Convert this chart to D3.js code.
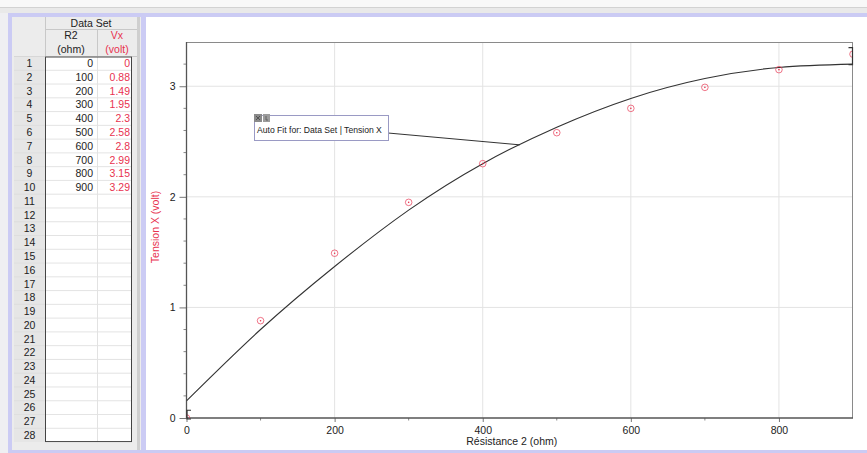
<!DOCTYPE html>
<html><head><meta charset="utf-8">
<script src="https://cdn.jsdelivr.net/npm/d3@7"></script>
<style>
html,body{margin:0;padding:0;background:#f2f2f2;overflow:hidden}
svg{display:block;font-family:"Liberation Sans",Arial,sans-serif}
</style></head>
<body>
<svg id="c" width="867" height="453"></svg>
<script>
// ---- data ----
const r2Values = [0,100,200,300,400,500,600,700,800,900];
const vxValues = [0,0.88,1.49,1.95,2.3,2.58,2.8,2.99,3.15,3.29];
const vxLabels = ["0","0.88","1.49","1.95","2.3","2.58","2.8","2.99","3.15","3.29"];
const fitX = [0,100,200,300,400,500,600,700,800,900];
const fitY = [0.155,0.80,1.37,1.88,2.30,2.63,2.89,3.07,3.17,3.20];
const xTicks = [0,200,400,600,800];
const xMinor = [100,300,500,700];
const yTicks = [0,1,2,3];
const yMinor = [0.2,0.4,0.6,0.8,1.2,1.4,1.6,1.8,2.2,2.4,2.6,2.8,3.2];
const leaderTarget = [450, 2.47];
const rowCount = 28;

const svg = d3.select("#c");
const RED = "#e8324f";

// ---- window chrome ----
svg.append("rect").attr("x",0).attr("y",0).attr("width",867).attr("height",453).attr("fill","#efeff2");
svg.append("rect").attr("x",0).attr("y",0).attr("width",867).attr("height",7).attr("fill","#f8f8f8");
svg.append("line").attr("x1",0).attr("x2",867).attr("y1",7.5).attr("y2",7.5).attr("stroke","#d2d2d2");
svg.append("rect").attr("x",0).attr("y",8).attr("width",867).attr("height",5).attr("fill","#e9e9e9");
svg.append("rect").attr("x",8).attr("y",13).attr("width",859).attr("height",440).attr("fill","#cbcbf4");
// table pane
svg.append("rect").attr("x",12).attr("y",17).attr("width",129).attr("height",433).attr("fill","#ececec");
svg.append("rect").attr("x",137).attr("y",17).attr("width",3).attr("height",433).attr("fill","#cfcfcf");
// graph pane
svg.append("rect").attr("x",146).attr("y",17).attr("width",721).attr("height",433).attr("fill","#ffffff");

// ---- table ----
const tX0 = 14, tNumR = 45, tR2R = 97, tVxR = 132, tHdrR = 137;
const rowTop = 56.5, rowH = 13.77;
const tbl = svg.append("g").attr("font-size",10.5).attr("fill","#222");
// header
tbl.append("rect").attr("x",tX0).attr("y",17).attr("width",tHdrR-tX0).attr("height",rowTop-17).attr("fill","#ececec");
tbl.append("line").attr("x1",tNumR).attr("x2",tHdrR).attr("y1",29.5).attr("y2",29.5).attr("stroke","#c8c8c8");
tbl.append("line").attr("x1",tNumR+0.5).attr("x2",tNumR+0.5).attr("y1",17).attr("y2",rowTop).attr("stroke","#c8c8c8");
tbl.append("line").attr("x1",tR2R+0.5).attr("x2",tR2R+0.5).attr("y1",29.5).attr("y2",rowTop).attr("stroke","#c8c8c8");
tbl.append("line").attr("x1",tX0).attr("x2",tHdrR).attr("y1",rowTop).attr("y2",rowTop).attr("stroke","#c8c8c8");
tbl.append("text").attr("x",(tNumR+tHdrR)/2).attr("y",26.5).attr("text-anchor","middle").text("Data Set");
tbl.append("text").attr("x",(tNumR+tR2R)/2).attr("y",39).attr("text-anchor","middle").text("R2");
tbl.append("text").attr("x",(tNumR+tR2R)/2).attr("y",53).attr("text-anchor","middle").text("(ohm)");
tbl.append("text").attr("x",(tR2R+tHdrR)/2).attr("y",39).attr("text-anchor","middle").attr("fill",RED).text("Vx");
tbl.append("text").attr("x",(tR2R+tHdrR)/2).attr("y",53).attr("text-anchor","middle").attr("fill",RED).text("(volt)");
// body
const rows = d3.range(rowCount);
tbl.append("rect").attr("x",tX0).attr("y",rowTop).attr("width",tNumR-tX0).attr("height",rowCount*rowH).attr("fill","#e6e6e6");
tbl.append("rect").attr("x",tNumR).attr("y",rowTop).attr("width",tVxR-tNumR).attr("height",rowCount*rowH).attr("fill","#ffffff");
tbl.selectAll("line.rl").data(rows.slice(1)).join("line")
  .attr("x1",tX0).attr("x2",tVxR).attr("y1",i=>rowTop+i*rowH).attr("y2",i=>rowTop+i*rowH)
  .attr("stroke","#dcdcdc").attr("stroke-width",0.8);
tbl.append("line").attr("x1",tR2R+0.5).attr("x2",tR2R+0.5).attr("y1",rowTop).attr("y2",rowTop+rowCount*rowH).attr("stroke","#e2e2e2");
tbl.append("rect").attr("x",tNumR+0.5).attr("y",rowTop+0.5).attr("width",tVxR-tNumR-1).attr("height",rowCount*rowH-1)
  .attr("fill","none").attr("stroke","#444").attr("stroke-width",1);
tbl.selectAll("text.rn").data(rows).join("text")
  .attr("x",(tX0+tNumR)/2).attr("y",i=>rowTop+i*rowH+rowH/2+3.8).attr("text-anchor","middle").text(i=>i+1);
tbl.selectAll("text.r2").data(r2Values).join("text")
  .attr("x",tR2R-4).attr("y",(d,i)=>rowTop+i*rowH+rowH/2+3.8).attr("text-anchor","end").text(d=>d);
tbl.selectAll("text.vx").data(vxLabels).join("text")
  .attr("x",tVxR-2).attr("y",(d,i)=>rowTop+i*rowH+rowH/2+3.8).attr("text-anchor","end").attr("fill",RED).text(d=>d);

// ---- graph ----
const L = 186.5, R = 853, T = 42, B = 418;
const x = d3.scaleLinear().domain([0,900]).range([L,R]);
const y = d3.scaleLinear().domain([0,3.4]).range([B,T]);
const g = svg.append("g");
svg.append("defs").append("clipPath").attr("id","pc").append("rect")
  .attr("x",L).attr("y",T).attr("width",R-L-0.5).attr("height",B-T);

// grid
g.selectAll("line.gx").data(xTicks.slice(1)).join("line")
  .attr("x1",d=>x(d)).attr("x2",d=>x(d)).attr("y1",T).attr("y2",B).attr("stroke","#e3e3e3");
g.selectAll("line.gy").data(yTicks.slice(1)).join("line")
  .attr("x1",L).attr("x2",R).attr("y1",d=>y(d)).attr("y2",d=>y(d)).attr("stroke","#e3e3e3");
// frame
g.append("line").attr("x1",L).attr("x2",R).attr("y1",T+0.5).attr("y2",T+0.5).attr("stroke","#8a8a8a");
g.append("line").attr("x1",R-0.5).attr("x2",R-0.5).attr("y1",T).attr("y2",B).attr("stroke","#8a8a8a");

// axes
const xAxis = d3.axisBottom(x).tickValues(xTicks).tickSize(4).tickPadding(5).tickFormat(d3.format("d"));
const xAx = g.append("g").attr("transform",`translate(0,${B})`).call(xAxis);
const yAxis = d3.axisLeft(y).tickValues(yTicks).tickSize(7).tickPadding(4).tickFormat(d3.format("d"));
const yAx = g.append("g").attr("transform",`translate(${L},0)`).call(yAxis);
[xAx,yAx].forEach(a=>{
  a.select(".domain").remove();
  a.selectAll("line").attr("stroke","#777");
  a.selectAll("text").attr("font-size",10.5).attr("fill","#222").attr("font-family","Liberation Sans, Arial, sans-serif");
});
g.selectAll("line.mx").data(xMinor).join("line")
  .attr("x1",d=>x(d)).attr("x2",d=>x(d)).attr("y1",B).attr("y2",B+2.5).attr("stroke","#888");
g.selectAll("line.my").data(yMinor).join("line")
  .attr("x1",L-3).attr("x2",L).attr("y1",d=>y(d)).attr("y2",d=>y(d)).attr("stroke","#888");
g.append("line").attr("x1",L).attr("x2",R).attr("y1",B).attr("y2",B).attr("stroke","#555").attr("stroke-width",1.3);
g.append("line").attr("x1",L).attr("x2",L).attr("y1",T).attr("y2",B).attr("stroke","#555").attr("stroke-width",1.3);

// axis titles
g.append("text").attr("x",(L+R)/2-8).attr("y",445).attr("text-anchor","middle").attr("font-size",10.5).attr("fill","#222")
  .text("Résistance 2 (ohm)");
g.append("text").attr("transform",`translate(159,${227}) rotate(-90)`).attr("text-anchor","middle")
  .attr("font-size",10.5).attr("fill",RED).text("Tension X (volt)");

// fit curve
const plot = g.append("g").attr("clip-path","url(#pc)");
const fitPts = fitX.map((d,i)=>[d,fitY[i]]);
plot.append("path").datum(fitPts)
  .attr("d",d3.line().x(d=>x(d[0])).y(d=>y(d[1])).curve(d3.curveNatural))
  .attr("fill","none").attr("stroke","#333").attr("stroke-width",1.1);

// points
const pts = r2Values.map((d,i)=>[d,vxValues[i]]);
plot.selectAll("circle.pt").data(pts).join("circle")
  .attr("cx",d=>x(d[0])).attr("cy",d=>y(d[1])).attr("r",3.3)
  .attr("fill","none").attr("stroke",RED).attr("stroke-width",0.8).attr("opacity",0.85);
plot.selectAll("circle.pd").data(pts).join("circle")
  .attr("cx",d=>x(d[0])).attr("cy",d=>y(d[1])).attr("r",0.8).attr("fill",RED);

// range brackets
const bl = x(0)+0.5, br = R-0.5;
g.append("path").attr("d",`M${bl+4},${y(0.07)} H${bl} V${B+1} H${bl+4}`)
  .attr("fill","none").attr("stroke","#333").attr("stroke-width",1.2);
g.append("path").attr("d",`M${br-4},${y(3.35)} H${br} V${y(3.195)} H${br-4}`)
  .attr("fill","none").attr("stroke","#333").attr("stroke-width",1.2);

// annotation
const bx = 254, by = 115, bw = 134, bh = 25;
g.append("line").attr("x1",bx+bw).attr("y1",by+18).attr("x2",x(leaderTarget[0])).attr("y2",y(leaderTarget[1]))
  .attr("stroke","#333").attr("stroke-width",1);
g.append("rect").attr("x",bx+0.5).attr("y",by+0.5).attr("width",bw).attr("height",bh)
  .attr("fill","#fff").attr("stroke","#9a9ac4").attr("stroke-width",1);
g.append("rect").attr("x",bx).attr("y",by-1).attr("width",8).attr("height",8).attr("fill","#8a8a8a");
g.append("rect").attr("x",bx+9).attr("y",by-1).attr("width",7).attr("height",8).attr("fill","#9c9c9c");
g.append("path").attr("d",`M${bx+2},${by+1} l4,4 M${bx+6},${by+1} l-4,4`).attr("stroke","#444").attr("stroke-width",0.8);
g.append("path").attr("d",`M${bx+12},${by+1} v4 h2`).attr("stroke","#555").attr("stroke-width",0.8).attr("fill","none");
g.append("text").attr("x",bx+3).attr("y",by+18).attr("font-size",8.6).attr("fill","#222")
  .text("Auto Fit for: Data Set | Tension X");
</script>
</body></html>
